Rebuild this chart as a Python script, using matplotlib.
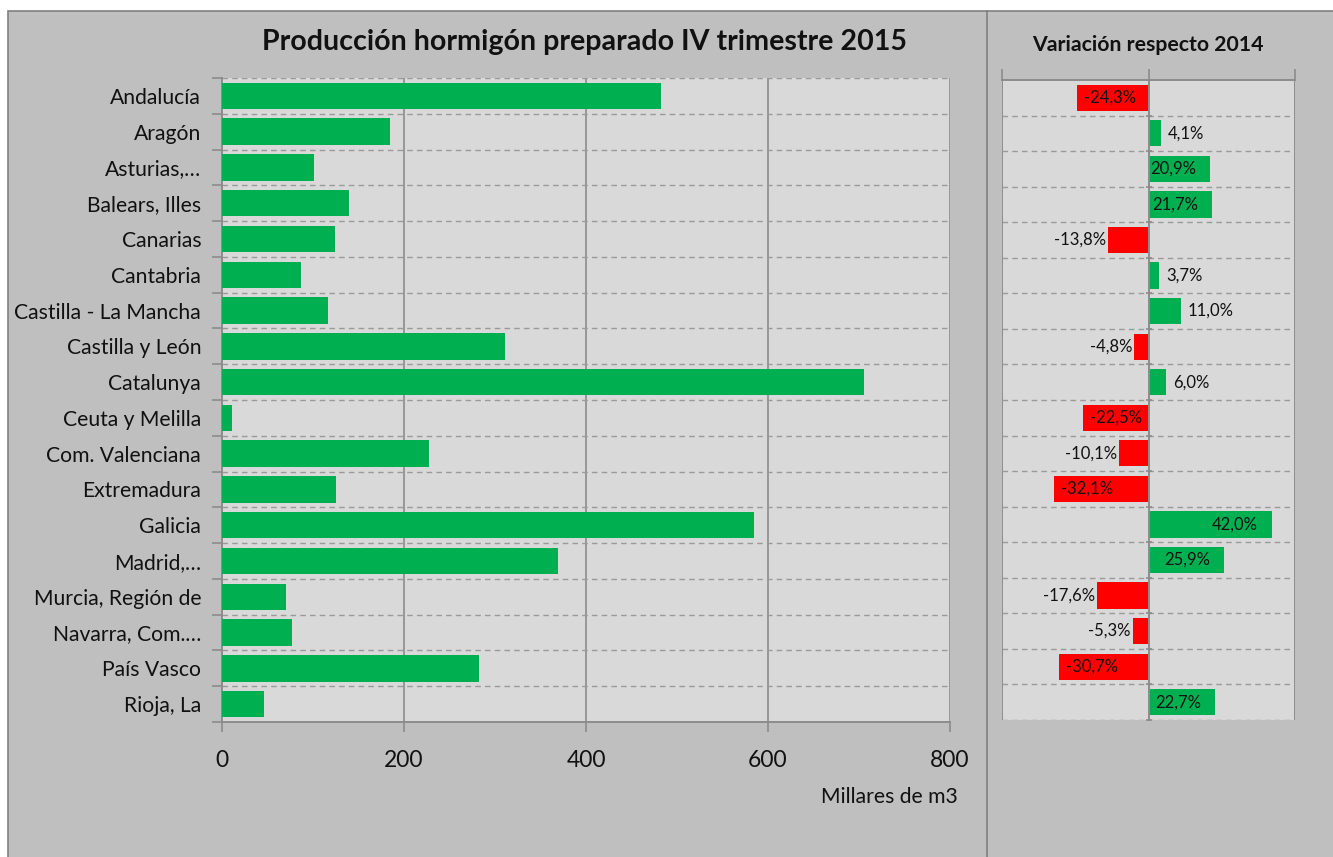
import matplotlib
matplotlib.use("Agg")
import matplotlib.pyplot as plt
from matplotlib.patches import Rectangle
from matplotlib.lines import Line2D
import matplotlib.transforms as mtransforms
import numpy as np

plt.rcParams['font.family'] = ['Lato', 'DejaVu Sans']

regions = ["Andalucía", "Aragón", "Asturias,…", "Balears, Illes", "Canarias",
           "Cantabria", "Castilla - La Mancha", "Castilla y León", "Catalunya",
           "Ceuta y Melilla", "Com. Valenciana", "Extremadura", "Galicia",
           "Madrid,…", "Murcia, Región de", "Navarra, Com.…", "País Vasco", "Rioja, La"]
production = [482, 185, 101, 140, 124, 87, 117, 311, 705, 11, 227, 125, 585,
              369, 70, 77, 282, 46]
variation = [-24.3, 4.1, 20.9, 21.7, -13.8, 3.7, 11.0, -4.8, 6.0, -22.5, -10.1,
             -32.1, 42.0, 25.9, -17.6, -5.3, -30.7, 22.7]
variation_labels = ["-24,3%", "4,1%", "20,9%", "21,7%", "-13,8%", "3,7%", "11,0%",
                    "-4,8%", "6,0%", "-22,5%", "-10,1%", "-32,1%", "42,0%", "25,9%",
                    "-17,6%", "-5,3%", "-30,7%", "22,7%"]
x_ticks = [0, 200, 400, 600, 800]

GREEN = "#00b050"
RED = "#ff0000"
BG = "#bfbfbf"
PLOT_BG = "#d9d9d9"
GRID = "#8c8c8c"
DASH = "#9a9a9a"

W, H = 1333, 857
fig = plt.figure(figsize=(W / 100, H / 100), dpi=100, facecolor="white")

# outer grey panel with border
fig.patches.append(Rectangle((8 / W, -0.1), 1.2, 1 - 11 / H + 0.1, transform=fig.transFigure,
                             facecolor=BG, edgecolor="#808080", linewidth=1.2, zorder=-10))
# separator line
fig.lines.append(Line2D([987 / W, 987 / W], [0, 1 - 11 / H], transform=fig.transFigure,
                        color="#808080", linewidth=1.2))

n = len(regions)
ypos = np.arange(n)
bounds = np.arange(n + 1) - 0.5

# ---------------- left panel ----------------
ax = fig.add_axes([222 / W, 1 - 722 / H, (950 - 222) / W, (722 - 78) / H])
ax.set_facecolor(PLOT_BG)
ax.barh(ypos, production, height=0.74, color=GREEN, zorder=3)
ax.set_xlim(0, 800)
ax.set_ylim(n - 0.5, -0.5)
ax.set_xticks(x_ticks)
ax.set_xticklabels([str(v) for v in x_ticks], fontsize=16.5, color="#111111")
ax.set_yticks(ypos)
ax.set_yticklabels(regions, fontsize=15.2, color="#111111")
ax.set_yticks(bounds, minor=True)
ax.tick_params(axis='y', which='major', length=0, pad=15)
ax.tick_params(axis='y', which='minor', length=7, color=GRID, width=1.2, direction='out')
ax.tick_params(axis='x', which='major', length=7, color=GRID, width=1.2, direction='out', pad=13)
for v in x_ticks[1:]:
    ax.axvline(v, color=GRID, linewidth=1.2, zorder=1)
for b in bounds[:-1]:
    ax.axhline(b, color=DASH, linewidth=1.0, linestyle=(0, (4, 3)), zorder=1)
for s in ['top', 'right']:
    ax.spines[s].set_visible(False)
for s in ['left', 'bottom']:
    ax.spines[s].set_color(GRID)
    ax.spines[s].set_linewidth(1.4)

fig.text(958 / W, 1 - 797 / H, "Millares de m3", ha='right', va='center',
         fontsize=15.2, color="#111111")

fig.text(585 / W, 1 - 42 / H, "Producción hormigón preparado IV trimestre 2015",
         ha='center', va='center', fontsize=20.6, fontweight='bold', color="#111111")

# ---------------- right panel ----------------
ax2 = fig.add_axes([1002 / W, 1 - 720 / H, (1295 - 1002) / W, (720 - 80) / H])
ax2.set_facecolor(PLOT_BG)
colors = [GREEN if v >= 0 else RED for v in variation]
ax2.barh(ypos, variation, height=0.74, color=colors, zorder=3)
ax2.set_xlim(-50, 50)
ax2.set_ylim(n - 0.5, -0.5)
ax2.xaxis.set_ticks_position('top')
ax2.set_xticks([-50, 0, 50])
ax2.set_xticklabels([])
ax2.tick_params(axis='x', length=8, color=GRID, width=1.2, direction='out')
ax2.spines['left'].set_position(('data', 0))
ax2.spines['left'].set_color(GRID)
ax2.spines['left'].set_linewidth(1.4)
ax2.spines['left'].set_zorder(4)
ax2.spines['top'].set_color(GRID)
ax2.spines['top'].set_linewidth(1.4)
ax2.spines['right'].set_visible(False)
ax2.spines['bottom'].set_visible(False)
ax2.set_yticks(bounds)
ax2.set_yticklabels([])
ax2.tick_params(axis='y', length=4, direction='inout', color=GRID, width=1.2)
for xv in (-50, 50):
    ax2.axvline(xv, color=GRID, linewidth=1.4, zorder=1)
for b in bounds[1:]:
    ax2.axhline(b, color=DASH, linewidth=1.0, linestyle=(0, (4, 3)), zorder=1)

for yi, (v, lab) in enumerate(zip(variation, variation_labels)):
    if abs(v) > 20:
        if v > 0:
            off, ha = -14, 'right'
        else:
            off, ha = 7, 'left'
    else:
        if v > 0:
            off, ha = 7, 'left'
        else:
            off, ha = -2, 'right'
    tr = mtransforms.offset_copy(ax2.transData, fig=fig, x=off, y=0, units='dots')
    ax2.text(v, yi, lab, transform=tr, ha=ha, va='center', fontsize=12,
             color="#111111", zorder=5)

fig.text(1148 / W, 1 - 45 / H, "Variación respecto 2014", ha='center', va='center',
         fontsize=15.3, fontweight='bold', color="#111111")

fig.savefig("out.png", dpi=100, facecolor=fig.get_facecolor())
